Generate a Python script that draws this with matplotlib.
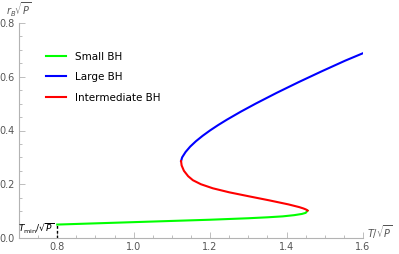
import matplotlib.pyplot as plt
from matplotlib.ticker import MultipleLocator

# small black hole branch
T_small = [0.80, 0.90, 1.00, 1.10, 1.20, 1.30, 1.35, 1.39, 1.42, 1.44, 1.45, 1.455]
r_small = [0.050, 0.0545, 0.059, 0.0635, 0.068, 0.0735, 0.077, 0.0805, 0.085, 0.0895, 0.0935, 0.102]

# intermediate branch
T_mid = [1.455, 1.451, 1.444, 1.433, 1.405, 1.355, 1.302, 1.250, 1.207, 1.176, 1.155, 1.1425, 1.1315, 1.1255, 1.124]
r_mid = [0.102, 0.106, 0.110, 0.115, 0.125, 0.140, 0.155, 0.170, 0.185, 0.200, 0.215, 0.230, 0.250, 0.270, 0.286]

# large black hole branch
T_large = [1.124, 1.1268, 1.1358, 1.1478, 1.1628, 1.1802, 1.1996, 1.2208, 1.2436, 1.2802,
           1.3192, 1.374, 1.4316, 1.4916, 1.5536, 1.599]
r_large = [0.286, 0.300, 0.320, 0.340, 0.360, 0.380, 0.400, 0.420, 0.440, 0.470,
           0.500, 0.540, 0.580, 0.620, 0.660, 0.687]

T_min = 0.80
r_min = 0.050

grey = '#b3b3b3'
txt = '#555555'

fig = plt.figure(figsize=(3.99, 2.54), dpi=100)
ax = fig.add_axes([19/399, 1-238/254, (363-19)/399, (238-23)/254])

ax.plot(T_small, r_small, color='#00ff00', lw=1.5, label='Small BH')
ax.plot(T_large, r_large, color='#0000ff', lw=1.5, label='Large BH')
ax.plot(T_mid, r_mid, color='#ff0000', lw=1.5, label='Intermediate BH')
ax.plot([T_min, T_min], [0, r_min], color='black', lw=1.0, ls=(0, (2, 1.5)))

ax.set_xlim(0.7, 1.6)
ax.set_ylim(0, 0.8)
ax.xaxis.set_major_locator(MultipleLocator(0.2))
ax.xaxis.set_minor_locator(MultipleLocator(0.05))
ax.yaxis.set_major_locator(MultipleLocator(0.2))
ax.yaxis.set_minor_locator(MultipleLocator(0.05))
ax.xaxis.set_major_formatter(plt.FuncFormatter(lambda v, p: '%.1f' % v))
ax.yaxis.set_major_formatter(plt.FuncFormatter(lambda v, p: '%.1f' % v))

for s in ['top', 'right']:
    ax.spines[s].set_visible(False)
for s in ['left', 'bottom']:
    ax.spines[s].set_color(grey)
    ax.spines[s].set_linewidth(0.8)
ax.tick_params(which='both', direction='in', color=grey, width=0.6)
ax.tick_params(which='major', length=4, labelsize=7, labelcolor=txt, pad=3)
ax.tick_params(which='minor', length=2)
ax.set_xticks([0.8, 1.0, 1.2, 1.4, 1.6])

ax.annotate(r'$r_B\sqrt{P}$', xy=(0, 1), xycoords='axes fraction', xytext=(-9, 3),
            textcoords='offset points', fontsize=7, color=txt, ha='left', va='bottom')
ax.annotate(r'$T/\sqrt{P}$', xy=(1, 0), xycoords='axes fraction', xytext=(3, 4),
            textcoords='offset points', fontsize=7, color=txt, ha='left', va='center')
ax.annotate(r'$T_{\rm min}/\sqrt{P}$', xy=(T_min, r_min/2), xytext=(-2, 2),
            textcoords='offset points', fontsize=6.5, color='black', ha='right', va='center')

ax.legend(loc='upper left', bbox_to_anchor=(0.05, 0.91), frameon=False, fontsize=7.5,
          handlelength=2.0, labelspacing=1.0, handletextpad=0.8)

fig.savefig('out.png', dpi=100)
